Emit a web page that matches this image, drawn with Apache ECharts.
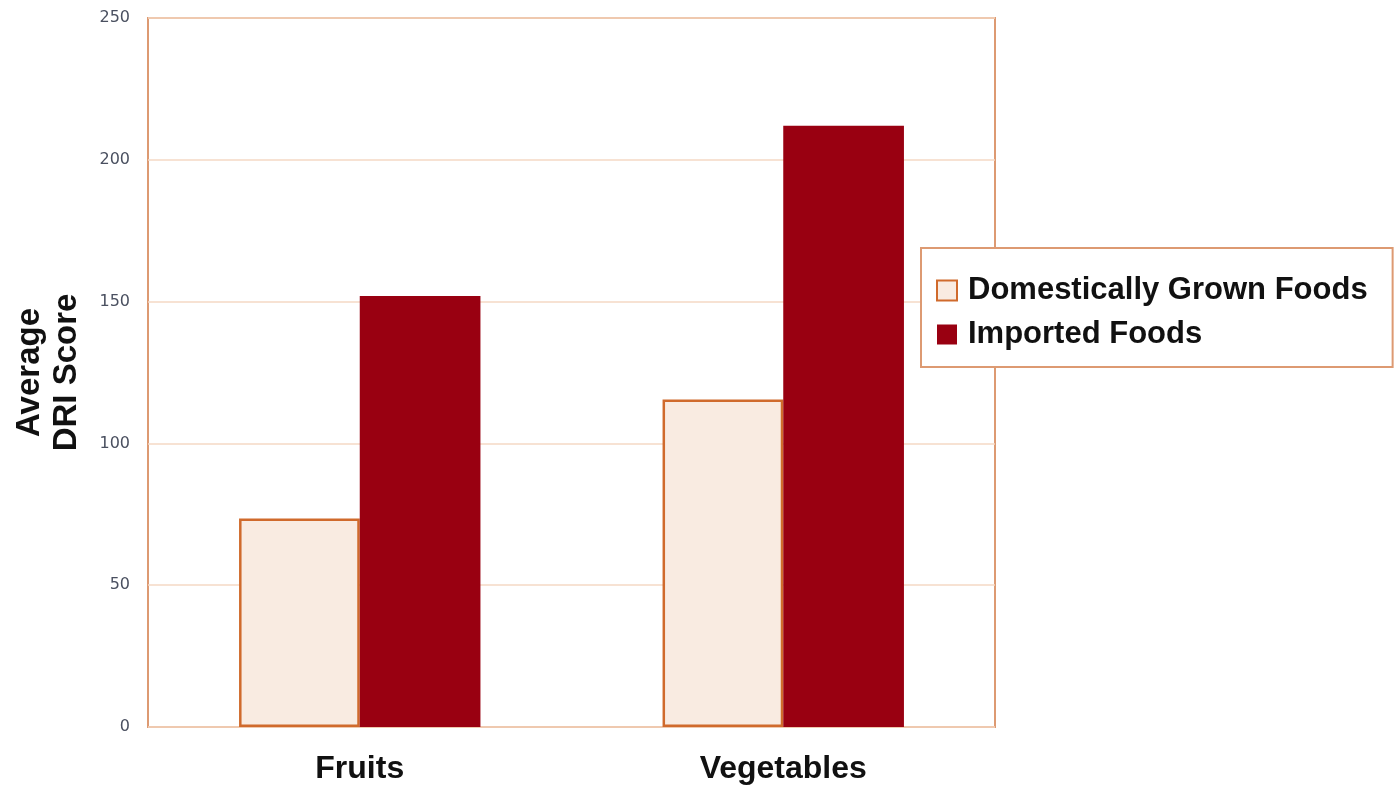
<!DOCTYPE html>
<html><head><meta charset="utf-8">
<script src="https://cdn.jsdelivr.net/npm/echarts@6/dist/echarts.min.js"></script>
<style>html,body{margin:0;padding:0;background:#fff}#c{width:1400px;height:785px}</style>
</head><body><div id="c"></div>
<script>
const categories = ['Fruits', 'Vegetables'];
const domestic = [73.5, 115.5];
const imported = [152, 212];
const seriesNames = ['Domestically Grown Foods', 'Imported Foods'];
const yTitle = 'Average\nDRI Score';

const chart = echarts.init(document.getElementById('c'), null, {renderer: 'canvas'});
chart.setOption({
  animation: false,
  backgroundColor: '#fff',
  grid: {left: 148, right: 405, top: 18, bottom: 58, containLabel: false, outerBoundsMode: 'none',
         show: true, borderColor: '#dd9a72', borderWidth: 2, backgroundColor: 'transparent'},
  legend: {
    orient: 'vertical', left: 921, top: 248,
    padding: [27, 25, 17, 15],
    backgroundColor: '#fff', borderColor: '#dd9a72', borderWidth: 2,
    itemWidth: 20, itemHeight: 20, itemGap: 13,
    icon: 'rect',
    textStyle: {fontFamily: 'Liberation Sans', fontWeight: 'bold', fontSize: 31, color: '#111', padding: [0, 0, 0, 6]},
    data: seriesNames
  },
  xAxis: {
    type: 'category', data: categories,
    axisLine: {show: false}, axisTick: {show: false},
    axisLabel: {fontFamily: 'Liberation Sans', fontWeight: 'bold', fontSize: 32, color: '#111', margin: 26}
  },
  yAxis: {
    type: 'value', min: 0, max: 250, interval: 50,
    name: yTitle, nameLocation: 'middle', nameGap: 63, nameRotate: 90,
    nameTextStyle: {fontFamily: 'Liberation Sans', fontWeight: 'bold', fontSize: 33, color: '#111', lineHeight: 37},
    axisLine: {show: false}, axisTick: {show: false},
    axisLabel: {fontFamily: 'DejaVu Sans', fontSize: 16, color: '#4a5060', margin: 18},
    splitLine: {lineStyle: {color: '#f5d8c4', width: 1.5}}
  },
  series: [
    {name: seriesNames[0], type: 'bar', data: domestic, barGap: '0%', barCategoryGap: '43%',
     itemStyle: {color: '#f9ebe1', borderColor: '#d06a2c', borderWidth: 2.5}},
    {name: seriesNames[1], type: 'bar', data: imported,
     itemStyle: {color: '#990011'}}
  ]
});
</script></body></html>
